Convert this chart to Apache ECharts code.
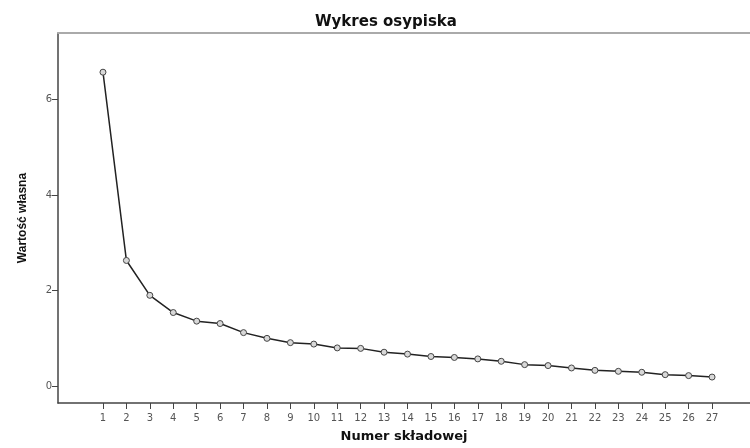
<!DOCTYPE html>
<html><head><meta charset="utf-8">
<script src="https://cdn.jsdelivr.net/npm/echarts@6/dist/echarts.min.js"></script>
<style>html,body{margin:0;padding:0;background:#fff}#c{width:750px;height:448px}</style>
</head><body><div id="c"></div>
<script>
var components = [1,2,3,4,5,6,7,8,9,10,11,12,13,14,15,16,17,18,19,20,21,22,23,24,25,26,27];
var eigenvalues = [6.57,2.63,1.90,1.54,1.36,1.31,1.12,1.00,0.91,0.88,0.80,0.79,0.71,0.67,0.62,0.60,0.57,0.52,0.45,0.43,0.38,0.33,0.31,0.29,0.24,0.22,0.19];
var yTicks = [0,2,4,6];

var chart = echarts.init(document.getElementById('c'));
var data = components.map(function(c,i){return [c, eigenvalues[i]];});
chart.setOption({
  animation:false,
  title:{text:'Wykres osypiska', left:381, top:10, textAlign:'center',
    textStyle:{fontFamily:'DejaVu Sans', fontWeight:'bold', fontSize:15, color:'#111'}},
  grid:{left:58, top:33, right:0, bottom:42, containLabel:false},
  xAxis:[{
    type:'value', min:-0.92, max:28.62, position:'bottom',
    name:'Numer składowej', nameLocation:'middle', nameGap:27,
    nameTextStyle:{fontFamily:'DejaVu Sans', fontWeight:'bold', fontSize:13, color:'#111'},
    axisLine:{show:true, onZero:false, lineStyle:{color:'#444', width:1.5}},
    axisTick:{show:true, length:6, customValues:components, lineStyle:{color:'#444'}},
    axisLabel:{customValues:components, fontFamily:'DejaVu Sans', fontSize:10, color:'#555', margin:10},
    splitLine:{show:false}
  },{
    type:'value', min:-0.92, max:28.62, position:'top',
    axisLine:{show:true, onZero:false, lineStyle:{color:'#aaa', width:2}},
    axisTick:{show:false}, axisLabel:{show:false}, splitLine:{show:false}
  }],
  yAxis:{
    type:'value', min:-0.353, max:7.39,
    name:'Wartość własna', nameLocation:'middle', nameGap:29,
    nameTextStyle:{fontFamily:'Liberation Sans', fontWeight:'bold', fontSize:12, color:'#111'},
    axisLine:{show:true, onZero:false, lineStyle:{color:'#444', width:1.5}},
    axisTick:{show:true, length:6, customValues:yTicks, lineStyle:{color:'#444'}},
    axisLabel:{customValues:yTicks, fontFamily:'DejaVu Sans', fontSize:10, color:'#555', margin:6},
    splitLine:{show:false}
  },
  series:[{
    type:'line', data:data, xAxisIndex:0,
    symbol:'circle', symbolSize:6, showSymbol:true,
    lineStyle:{color:'#222', width:1.5},
    itemStyle:{color:'#d8d8d8', borderColor:'#444', borderWidth:1}
  }]
});
</script></body></html>
